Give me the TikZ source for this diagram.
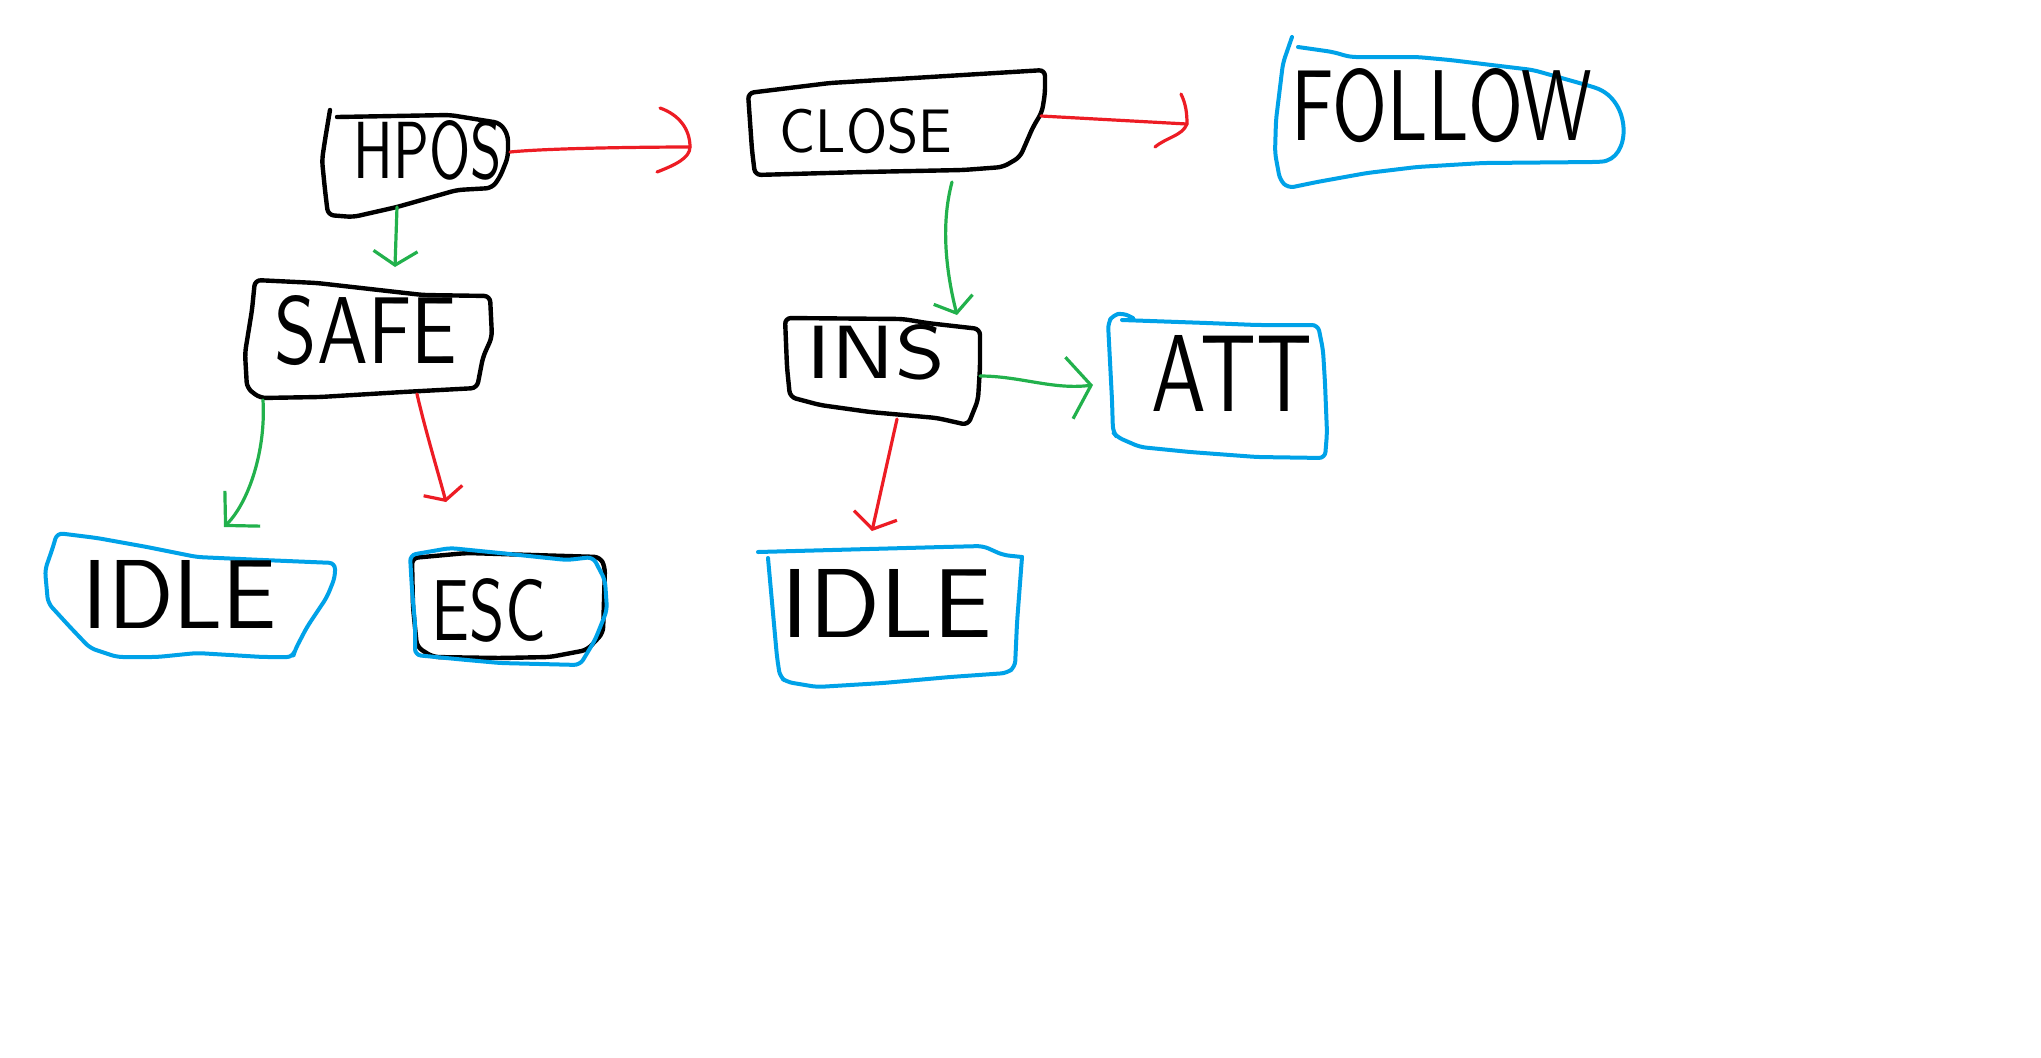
\documentclass[tikz,border=0pt]{standalone}
\usepackage{fontspec}
\usepackage{graphicx}
\newcommand\hand{\sffamily}
\usetikzlibrary{arrows.meta,calc}
\definecolor{pred}{HTML}{ED1C24}
\definecolor{pgreen}{HTML}{22B14C}
\definecolor{pblue}{HTML}{00A2E8}
\newcommand\hwt[3]{\resizebox{#1pt}{#2pt}{\hand #3}}
\begin{document}
\begin{tikzpicture}[x=0.5pt,y=-0.5pt,line cap=round,line join=round,
  lbl/.style={inner sep=0pt,outer sep=0pt},
  blackbox/.style={draw=black,line width=2.2pt,rounded corners=3pt},
  bluebox/.style={draw=pblue,line width=2pt,rounded corners=3pt},
  redarrow/.style={draw=pred,line width=1.6pt},
  greenarrow/.style={draw=pgreen,line width=1.6pt}]
\fill[white] (0,0) rectangle (2041,1057);
\useasboundingbox (0,0) rectangle (2041,1057);

% outlines
\draw[blackbox] (330,110) -- (325,140) -- (322,160) -- (325,190) -- (328,215) -- (353,217) -- (397,207) -- (457,190) -- (492,188) -- (500,177) -- (508,157) -- (508,135) -- (500,123) -- (450,115) -- (337,117);
\draw[blackbox] (255,280) -- (317,283) -- (423,295) -- (490,296) -- (492,337) -- (483,357) -- (477,388) -- (403,392) -- (320,397) -- (260,398) -- (247,388) -- (245,353) -- (252,310) -- cycle;
\draw[blackbox] (748,93) -- (830,83) -- (930,77) -- (1045,70) -- (1045,93) -- (1042,112) -- (1033,127) -- (1020,157) -- (1003,167) -- (963,170) -- (863,172) -- (755,175) -- (752,150) -- cycle;
\draw[blackbox] (785,318) -- (903,319) -- (927,323) -- (980,329) -- (980,367) -- (978,400) -- (968,425) -- (937,418) -- (870,412) -- (820,405) -- (790,397) -- (787,367) -- cycle;
\draw[bluebox] (1292,37) -- (1283,63) -- (1276,120) -- (1275,153) -- (1280,180) -- (1288,188) -- (1317,182) -- (1367,173) -- (1417,167) -- (1483,163) -- (1595,162) .. controls (1632,160) and (1632,100) .. (1590,86) -- (1533,70) -- (1450,60) -- (1417,57) -- (1350,57) -- (1333,52) -- (1298,47);
\draw[bluebox] (1122,320) -- (1207,323) -- (1257,325) -- (1318,325) -- (1323,350) -- (1325,383) -- (1327,433) -- (1325,458) -- (1257,457) -- (1190,452) -- (1140,447) -- (1117,437) -- (1113,432) -- (1112,400) -- (1108,323) -- (1113,315) -- (1123,313) -- (1133,318);
\draw[bluebox] (57,533) -- (97,538) -- (147,547) -- (197,557) -- (263,560) -- (335,563) -- (335,577) -- (327,597) -- (307,627) -- (295,650) -- (293,657) -- (263,657) -- (197,653) -- (157,657) -- (117,657) -- (90,648) -- (70,627) -- (48,603) -- (45,570) -- (53,547) -- cycle;
\draw[blackbox] (412,558) -- (467,553) -- (533,555) -- (600,557) -- (605,567) -- (603,633) -- (587,650) -- (550,657) -- (500,658) -- (433,657) -- (417,647) -- (413,607) -- cycle;
\draw[bluebox] (410,555) -- (450,548) -- (500,553) -- (567,560) -- (593,557) -- (605,580) -- (607,610) -- (595,640) -- (580,665) -- (500,663) -- (467,660) -- (415,655) -- (415,623) -- (412,590) -- cycle;
\draw[bluebox] (758,552) -- (943,547) -- (983,546) -- (1003,555) -- (1022,557);
\draw[bluebox] (768,558) -- (777,657) -- (780,677) -- (787,682) -- (817,687) -- (883,683) -- (950,677) -- (1007,673) -- (1015,667) -- (1017,623) -- (1022,557);

% nodes
\node[lbl] (hpos) at (428,150) {\hwt{74}{29}{HPOS}};
\node[lbl] (safe) at (366,331) {\hwt{91}{34}{SAFE}};
\node[lbl] (close) at (866,131) {\hwt{86}{22}{CLOSE}};
\node[lbl] (follow) at (1442,106) {\hwt{150}{36}{FOLLOW}};
\node[lbl] (ins) at (876,352) {\hwt{69}{27}{INS}};
\node[lbl] (att) at (1232,373) {\hwt{80}{38}{ATT}};
\node[lbl] (idle1) at (180,594) {\hwt{97}{34}{IDLE}};
\node[lbl] (esc) at (489,610) {\hwt{57}{31}{ESC}};
\node[lbl] (idle2) at (887,603) {\hwt{105}{34}{IDLE}};

% connectors
\draw[redarrow] ($(hpos)+(82,2)$) .. controls +(40,-4) and +(-40,0) .. ($(close)+(-176,16)$);
\draw[redarrow] ($(close)+(-206,-23)$) .. controls +(20,7) and +(0,-17) .. ($(close)+(-176,16)$) .. controls +(0,11) and +(18,-7) .. ($(close)+(-209,41)$);
\draw[redarrow] ($(close)+(175,-15)$) -- ($(follow)+(-255,18)$);
\draw[redarrow] ($(follow)+(-261,-12)$) .. controls +(5,10) and +(0,-10) .. ($(follow)+(-255,18)$) .. controls +(-5,12) and +(12,-10) .. ($(follow)+(-287,41)$);
\draw[greenarrow,-{Straight Barb[length=7pt,width=22pt]}] ($(hpos)+(-31,57)$) -- ($(safe)+(29,-64)$);
\draw[greenarrow,-{Straight Barb[length=7pt,width=20pt]}] ($(close)+(86,51)$) .. controls +(-12,45) and +(-10,-40) .. ($(ins)+(81,-37)$);
\draw[greenarrow,-{Straight Barb[length=12pt,width=25pt]}] ($(safe)+(-103,69)$) .. controls +(3,50) and +(25,-25) .. ($(idle1)+(44,-67)$);
\draw[redarrow,-{Straight Barb[length=5pt,width=20pt]}] ($(safe)+(51,63)$) .. controls +(8,35) and +(-8,-30) .. ($(esc)+(-43,-108)$);
\draw[greenarrow,-{Straight Barb[length=11pt,width=31pt]}] ($(ins)+(104,24)$) .. controls +(40,0) and +(-40,5) .. ($(att)+(-139,12)$);
\draw[redarrow,-{Straight Barb[length=7pt,width=22pt]}] ($(ins)+(21,67)$) -- ($(idle2)+(-15,-72)$);
\end{tikzpicture}
\end{document}
